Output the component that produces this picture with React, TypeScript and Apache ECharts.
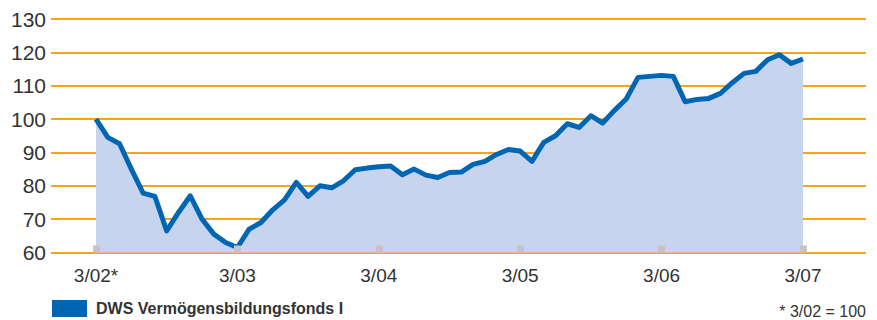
import React, { useEffect, useRef } from "react";
import * as echarts from "echarts";

const seriesName = "DWS Vermögensbildungsfonds I";
const yearTickLabels = ["3/02*", "3/03", "3/04", "3/05", "3/06", "3/07"];
const yearTickIndex = [0, 12, 24, 36, 48, 60];
const yTicks = [60, 70, 80, 90, 100, 110, 120, 130];
const monthlyValues = [
  100, 94.5, 92.6, 85, 77.8, 76.8, 66.5, 72, 77, 70, 65.5, 63,
  61.5, 67, 69, 72.8, 75.8, 81, 76.8, 80, 79.4, 81.5, 84.8, 85.3,
  85.7, 85.9, 83.3, 85, 83.2, 82.5, 84, 84.1, 86.4, 87.3, 89.4, 90.9,
  90.4, 87.3, 93, 95, 98.6, 97.5, 101, 98.8, 102.6, 106, 112.5, 112.8,
  113.1, 112.8, 105.2, 105.9, 106.2, 107.7, 110.9, 113.7, 114.3, 117.8, 119.3, 116.7,
  118,
];
const footnote = "* 3/02 = 100";

export default function App() {
  const ref = useRef<HTMLDivElement>(null);
  useEffect(() => {
    if (!ref.current) return;
    const chart = echarts.init(ref.current, null, { renderer: "svg" });
    const font = "'Liberation Sans', Arial, sans-serif";
    chart.setOption({
      animation: false,
      grid: { left: 51, right: 11, top: 19, bottom: 67.5, containLabel: false },
      xAxis: {
        type: "value",
        min: -3.82,
        max: 65.35,
        z: 10,
        splitLine: { show: false },
        axisLine: { show: false },
        axisTick: {
          show: true,
          inside: true,
          length: 7,
          customValues: yearTickIndex,
          lineStyle: { color: "#c4c4c4", width: 7 },
        },
        axisLabel: {
          customValues: yearTickIndex,
          formatter: (v: number) => yearTickLabels[yearTickIndex.indexOf(Math.round(v))] ?? "",
          color: "#333",
          fontSize: 19,
          fontFamily: font,
          margin: 13,
        },
      },
      yAxis: {
        type: "value",
        min: yTicks[0],
        max: yTicks[yTicks.length - 1],
        interval: 10,
        axisLine: { show: false },
        axisTick: { show: false },
        splitLine: { lineStyle: { color: "#f7a31c", width: 2 } },
        axisLabel: { color: "#333", fontSize: 21, fontFamily: font, margin: 5 },
      },
      legend: {
        left: 47,
        top: 295,
        padding: 5,
        itemWidth: 35,
        itemHeight: 17,
        icon: "rect",
        data: [{ name: seriesName, itemStyle: { color: "#0066b3" } }],
        textStyle: { fontWeight: "bold", fontSize: 16, color: "#333", fontFamily: font, padding: [0, 0, 0, 4] },
      },
      series: [
        {
          name: seriesName,
          type: "line",
          data: monthlyValues.map((v, i) => [i, v]),
          showSymbol: false,
          lineStyle: { color: "#0066b3", width: 5, join: "round" },
          itemStyle: { color: "#0066b3" },
          areaStyle: { color: "#c6d5ed", opacity: 1, origin: "start" },
          z: 2,
        },
      ],
      graphic: [
        {
          type: "text",
          right: 11,
          top: 303,
          style: { text: footnote, fill: "#333", font: `16px ${font}` },
        },
      ],
    });
    return () => chart.dispose();
  }, []);
  return <div ref={ref} style={{ width: 877, height: 320, position: "absolute", left: 0, top: 0 }} />;
}
